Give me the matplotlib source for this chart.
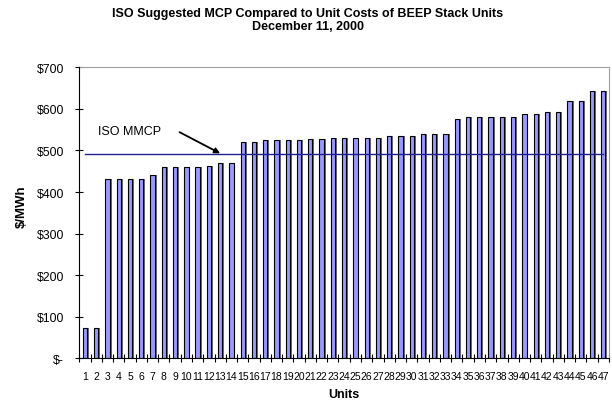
import matplotlib
matplotlib.use("Agg")
import matplotlib.pyplot as plt
import numpy as np

plt.rcParams['font.family'] = ['Liberation Sans', 'DejaVu Sans']

# Unit cost ($/MWh) of each BEEP stack unit, sorted ascending
units = list(range(1, 48))
costs = [74, 74, 431, 431, 431, 431, 440, 460, 460, 460, 460, 463, 469, 469,
         520, 520, 524, 524, 524, 524, 527, 527, 531, 531, 531, 531, 531, 535,
         536, 536, 539, 539, 539, 575, 580, 580, 580, 580, 580, 588, 588, 592,
         592, 620, 620, 642, 642]
iso_mmcp = 492
yticks = [0, 100, 200, 300, 400, 500, 600, 700]


def money(v, pos=None):
    return "$-" if v == 0 else "${:,.0f}".format(v)


fig = plt.figure(figsize=(6.12, 4.02), dpi=100)
ax = fig.add_axes([0.1296, 0.1062, 0.8654, 0.7238])

x = np.array(units)
w = 0.38
# drop shadow behind each column
ax.bar(x + 0.17, costs, width=w, color="#6a6a6a", edgecolor="none", zorder=2)
ax.bar(x, costs, width=w, color="#9999FF", edgecolor="black", linewidth=0.8, zorder=3)

ax.plot([1, 47], [iso_mmcp, iso_mmcp], color="#1f1f8f", linewidth=1.0, zorder=4)
ax.text(2.15, 547, "ISO MMCP", fontsize=9, va="center", ha="left")
ax.annotate("", xy=(13.0, iso_mmcp + 1), xytext=(9.4, 544),
            arrowprops=dict(arrowstyle="-|>", color="black", lw=1.3,
                            shrinkA=0, shrinkB=0, mutation_scale=8),
            zorder=5)

ax.set_xlim(0.5, 47.5)
ax.set_ylim(0, 700)
ax.set_yticks(yticks)
ax.yaxis.set_major_formatter(plt.FuncFormatter(money))
ax.tick_params(axis="y", direction="inout", length=6, width=0.8, labelsize=8.8, pad=8)

ax.set_xticks(units)
ax.set_xticklabels([str(u) for u in units])
ax.set_xticks(np.arange(0.5, 48, 1), minor=True)
ax.tick_params(axis="x", which="major", length=0, labelsize=7.5, pad=9)
ax.tick_params(axis="x", which="minor", direction="inout", length=6, width=0.8)

for s in ["top", "right"]:
    ax.spines[s].set_color("#a0a0a0")
for s in ["left", "bottom"]:
    ax.spines[s].set_color("black")
    ax.spines[s].set_zorder(6)

ax.set_ylabel("$/MWh", fontsize=9.5, fontweight="bold")
ax.yaxis.set_label_coords(-0.097, 0.526)
ax.set_xlabel("Units", fontsize=9, fontweight="bold", labelpad=5)
fig.text(0.503, 0.965, "ISO Suggested MCP Compared to Unit Costs of BEEP Stack Units",
         ha="center", va="center", fontsize=9, fontweight="bold")
fig.text(0.503, 0.932, "December 11, 2000",
         ha="center", va="center", fontsize=9, fontweight="bold")

fig.savefig("out.png", dpi=100)
